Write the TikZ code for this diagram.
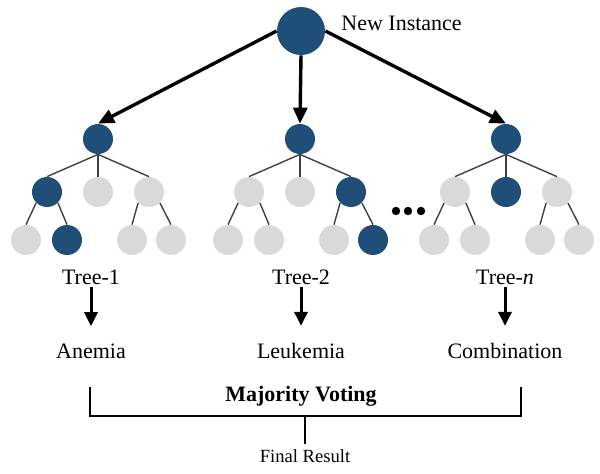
\documentclass[tikz,border=0pt]{standalone}
\usepackage{fontspec}
\setmainfont{Liberation Serif}
\usepackage{tikz}
\usetikzlibrary{arrows.meta,positioning}
\definecolor{nodeblue}{HTML}{1F4E79}
\definecolor{nodegray}{HTML}{D9D9D9}
\definecolor{branchgray}{HTML}{404040}

\begin{document}
\begin{tikzpicture}[x=0.5pt,y=-0.5pt,
  hit/.style={circle,fill=nodeblue,minimum size=15pt,inner sep=0pt},
  miss/.style={circle,fill=nodegray,minimum size=15pt,inner sep=0pt},
  branch/.style={branchgray,line width=0.7pt},
  bigarr/.style={-{Triangle[length=8pt,width=7pt]},line width=1.7pt},
  smallarr/.style={-{Triangle[length=7pt,width=6.5pt]},line width=1.5pt,shorten >=7.5pt},
  lbl/.style={font=\fontsize{11}{13}\selectfont,inner sep=1pt},
  bracket/.style={line width=1pt}
]
\useasboundingbox (0,0) rectangle (600,473);

\node[hit,minimum size=24pt] (root) at (301,31) {};
\node[lbl,anchor=west] (inst) at (339,23) {New Instance};

% the three trees
\foreach \t/\x/\a/\b/\c/\d/\e/\lx/\name/\res in
  {1/98/hit/miss/miss/hit/miss/91/{Tree-1}/Anemia,
   2/300/miss/miss/hit/miss/hit/301/{Tree-2}/Leukemia,
   n/506/miss/hit/miss/miss/miss/505/{Tree-\textit{n}}/Combination}{
  \node[hit] (r\t) at (\x,139) {};
  \node[\a] (a\t) at ([shift={(-51,53)}]r\t) {};
  \node[\b] (b\t) at ([shift={(0,53)}]r\t) {};
  \node[\c] (c\t) at ([shift={(51,53)}]r\t) {};
  \node[miss] (aa\t) at ([shift={(-21,48)}]a\t) {};
  \node[\d] (ab\t) at ([shift={(20,48)}]a\t) {};
  \node[miss] (ca\t) at ([shift={(-17,48)}]c\t) {};
  \node[\e] (cb\t) at ([shift={(22,48)}]c\t) {};
  \draw[branch] (r\t.south) -- (a\t.north);
  \draw[branch] (r\t.south) -- (b\t.north);
  \draw[branch] (r\t.south) -- (c\t.north);
  \draw[branch] (a\t.225) -- (aa\t.north);
  \draw[branch] (a\t.315) -- (ab\t.north);
  \draw[branch] (c\t.225) -- (ca\t.north);
  \draw[branch] (c\t.315) -- (cb\t.north);
  \node[lbl] (lab\t) at (\lx,277) {\name};
  \node[lbl] (res\t) at (\lx,351) {\res};
  \draw[smallarr] (lab\t) -- (res\t);
}

\foreach \d in {396,408,421}
  \fill (\d,211) circle (2.1pt);

\draw[bigarr] (root.west) -- (r1.north);
\draw[bigarr] (root.south) -- (r2.north);
\draw[bigarr] (root.east) -- (rn.north);

% voting
\node[lbl,font=\fontsize{11}{13}\selectfont\bfseries] (vote) at (301,396) {Majority Voting};
\coordinate (mvl) at (90,387);
\coordinate (mvr) at (521,387);
\coordinate (mvm) at (305,416);
\draw[bracket] (mvl) |- (mvm) -| (mvr);
\node[font=\fontsize{9.3}{11}\selectfont,anchor=north,inner sep=2.75pt] (final) at (305,444) {Final Result};
\draw[bracket] (mvm) -- (final);
\end{tikzpicture}
\end{document}
